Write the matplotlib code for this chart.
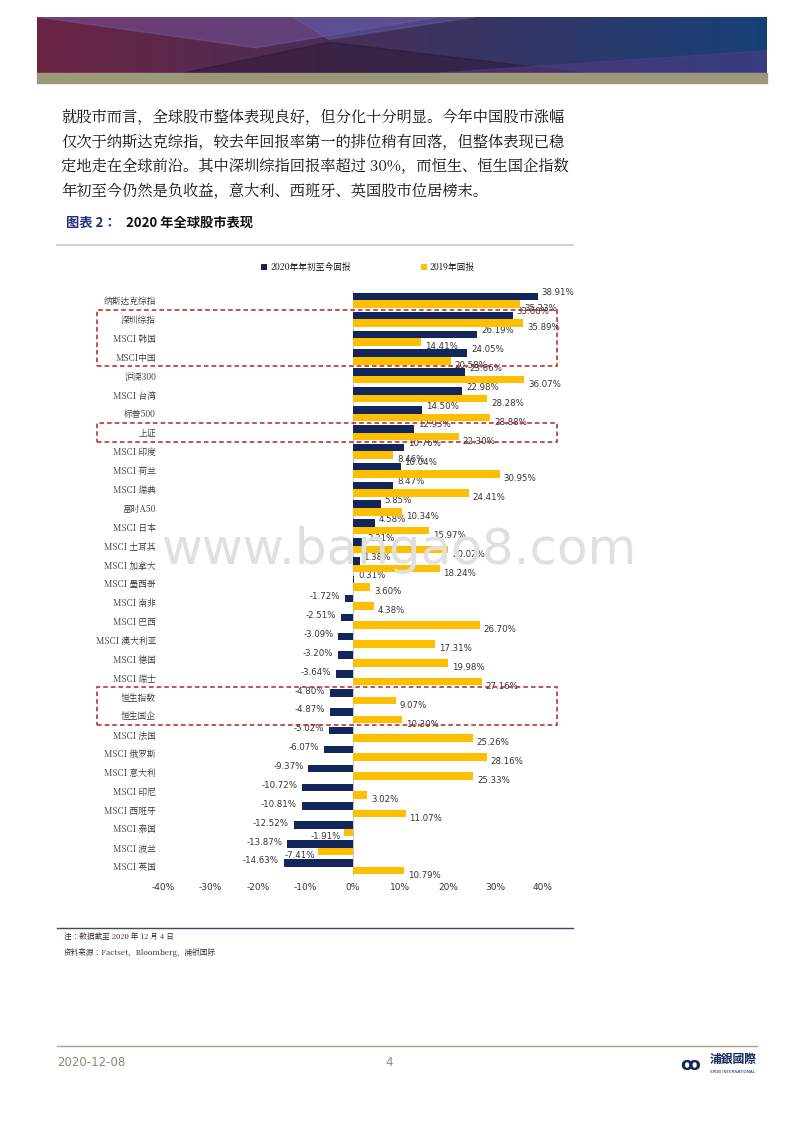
import matplotlib
matplotlib.use("Agg")
import matplotlib.pyplot as plt
import numpy as np
from matplotlib.patches import Rectangle, Polygon

SERIF = ['Noto Serif CJK JP', 'Noto Sans CJK JP', 'DejaVu Sans']
SANS = ['Noto Sans CJK JP', 'DejaVu Sans']
plt.rcParams['font.family'] = SERIF

categories = ["纳斯达克综指", "深圳综指", "MSCI 韩国", "MSCI中国", "沪深300", "MSCI 台湾", "标普500", "上证",
              "MSCI 印度", "MSCI 荷兰", "MSCI 瑞典", "富时A50", "MSCI 日本", "MSCI 土耳其", "MSCI 加拿大",
              "MSCI 墨西哥", "MSCI 南非", "MSCI 巴西", "MSCI 澳大利亚", "MSCI 德国", "MSCI 瑞士",
              "恒生指数", "恒生国企", "MSCI 法国", "MSCI 俄罗斯", "MSCI 意大利", "MSCI 印尼", "MSCI 西班牙",
              "MSCI 泰国", "MSCI 波兰", "MSCI 英国"]
ret_2020 = [38.91, 33.60, 26.19, 24.05, 23.66, 22.98, 14.50, 12.93, 10.76, 10.04, 8.47, 5.85, 4.58, 2.21,
            1.38, 0.31, -1.72, -2.51, -3.09, -3.20, -3.64, -4.80, -4.87, -5.02, -6.07, -9.37, -10.72,
            -10.81, -12.52, -13.87, -14.63]
ret_2019 = [35.23, 35.89, 14.41, 20.58, 36.07, 28.28, 28.88, 22.30, 8.46, 30.95, 24.41, 10.34, 15.97, 20.02,
            18.24, 3.60, 4.38, 26.70, 17.31, 19.98, 27.16, 9.07, 10.30, 25.26, 28.16, 25.33, 3.02,
            11.07, -1.91, -7.41, 10.79]
xticks = [-40, -30, -20, -10, 0, 10, 20, 30, 40]
legend_labels = ["2020年年初至今回报", "2019年回报"]

NAVY = "#13265c"
GOLD = "#fdbf00"
W, H = 800, 1132
fig = plt.figure(figsize=(8, 11.32), dpi=100)

def fx(px): return px / W
def fy(py): return 1 - py / H

# header banner
bn = fig.add_axes([fx(37), fy(73), fx(730), (73 - 17) / H])
grad = np.linspace(0, 1, 256)
c1 = np.array([0.42, 0.14, 0.26]); c2 = np.array([0.09, 0.25, 0.47])
img = (c1[None, :] * (1 - grad[:, None]) + c2[None, :] * grad[:, None])[None, :, :]
bn.imshow(img, aspect='auto', extent=[0, 1, 0, 1])
bn.add_patch(Polygon([[0, 1], [0.55, 1], [0.30, 0.45]], closed=True, color="#7a5aa8", alpha=0.45))
bn.add_patch(Polygon([[0.2, 0], [0.4, 0.55], [0.75, 0]], closed=True, color="#2a1530", alpha=0.45))
bn.add_patch(Polygon([[0.55, 0], [1, 0.4], [1, 0]], closed=True, color="#5a3a8a", alpha=0.5))
bn.add_patch(Polygon([[0.35, 1], [0.6, 1], [0.4, 0.6]], closed=True, color="#5e5ca8", alpha=0.5))
bn.set_xlim(0, 1); bn.set_ylim(0, 1); bn.axis('off')
fig.patches.append(Rectangle((fx(37), fy(83)), fx(730), 10 / H, transform=fig.transFigure,
                             color="#9a9878", zorder=1))

para = ["就股市而言，全球股市整体表现良好，但分化十分明显。今年中国股市涨幅",
        "仅次于纳斯达克综指，较去年回报率第一的排位稍有回落，但整体表现已稳",
        "定地走在全球前沿。其中深圳综指回报率超过 30%，而恒生、恒生国企指数",
        "年初至今仍然是负收益，意大利、西班牙、英国股市位居榜末。"]
for i, line in enumerate(para):
    fig.text(fx(61), fy(118 + i * 24.5), line, fontsize=11, va='center', color="#111111")

fig.text(fx(66), fy(223), "图表 2：", fontsize=9.5, fontweight='bold', color="#1f2f7a", va='center', family=SANS)
fig.text(fx(126), fy(223), "2020 年全球股市表现", fontsize=9.5, fontweight='bold', color="#111111", va='center', family=SANS)
fig.add_artist(plt.Line2D([fx(57), fx(573)], [fy(245), fy(245)], color="#c8c8d4", lw=1.2))
fig.add_artist(plt.Line2D([fx(57), fx(573)], [fy(928), fy(928)], color="#3a4a6a", lw=1))

# watermark
fig.text(0.5, fy(550), "www.bangao8.com", fontsize=36, color="#e0e0e0", ha='center', va='center',
         family='DejaVu Sans', zorder=0)

ax = fig.add_axes([fx(163), fy(876), 380 / W, (876 - 291) / H])
ax.patch.set_alpha(0)
n = len(categories)
y = np.arange(n)
bh = 0.4
ax.barh(y - 0.2, ret_2020, height=bh, color=NAVY, label=legend_labels[0], zorder=3)
ax.barh(y + 0.2, ret_2019, height=bh, color=GOLD, label=legend_labels[1], zorder=3)
ax.set_ylim(n - 0.5, -0.5)
ax.set_xlim(-40, 40)
ax.set_xticks(xticks)
ax.set_xticklabels([f"{t}%" for t in xticks], fontsize=6.5, color="#333333", family='DejaVu Sans')
ax.set_yticks(y)
ax.set_yticklabels(categories, fontsize=6.3, color="#333333")
ax.tick_params(length=0, pad=5)
for s in ax.spines.values():
    s.set_visible(False)
ax.axvline(0, color="#bbbbbb", lw=0.6, zorder=2)

lkw = dict(fontsize=6.2, va='center', color="#333333", family='DejaVu Sans', zorder=2.5)
for i, (a, b) in enumerate(zip(ret_2020, ret_2019)):
    if a >= 0:
        ax.text(a + 0.8, i - 0.4, f"{a:.2f}%", ha='left', **lkw)
    else:
        ax.text(a - 1.0, i - 0.3, f"{a:.2f}%", ha='right', **lkw)
    if b >= 0:
        ax.text(b + 0.8, i + 0.45, f"{b:.2f}%", ha='left', **lkw)
    else:
        ax.text(b - 0.6, i + 0.4, f"{b:.2f}%", ha='right', **lkw)

fig.legend(loc='center', bbox_to_anchor=(fx(368), fy(267)), ncol=2, fontsize=6.3, frameon=False,
           handlelength=0.7, handleheight=0.7, columnspacing=8, handletextpad=0.3)

# red dashed highlight boxes
for top, bot in [(1, 3), (7, 7), (21, 22)]:
    ytop = ax.transData.transform((0, top - 0.5))[1]
    ybot = ax.transData.transform((0, bot + 0.5))[1]
    fig.patches.append(Rectangle((fx(97), ybot / fig.dpi / 11.32), fx(460), (ytop - ybot) / fig.dpi / 11.32,
                                 transform=fig.transFigure, fill=False, edgecolor="#b22222",
                                 linestyle=(0, (3, 2)), lw=1.1, zorder=5))

fig.text(fx(64), fy(937), "注：数据截至 2020 年 12 月 4 日", fontsize=5.5, va='center', color="#222222")
fig.text(fx(64), fy(953), "资料来源：Factset、Bloomberg、浦银国际", fontsize=5.5, va='center', color="#222222")

fig.add_artist(plt.Line2D([fx(57), fx(757)], [fy(1046), fy(1046)], color="#a8a58c", lw=1))
fig.text(fx(57), fy(1063), "2020-12-08", fontsize=8.5, color="#8a8a70", va='center', family='DejaVu Sans')
fig.text(fx(385), fy(1063), "4", fontsize=8.5, color="#8a8a70", va='center', family='DejaVu Sans')
fig.text(fx(680), fy(1065), "ꝏ", fontsize=13, color=NAVY, va='center', family='DejaVu Sans', fontweight='bold')
fig.text(fx(710), fy(1059), "浦銀國際", fontsize=8.5, color=NAVY, va='center', fontweight='bold', family=SANS)
fig.text(fx(710), fy(1072), "SPDB INTERNATIONAL", fontsize=3, color=NAVY, va='center', family='DejaVu Sans')

fig.savefig("out.png", dpi=100)
